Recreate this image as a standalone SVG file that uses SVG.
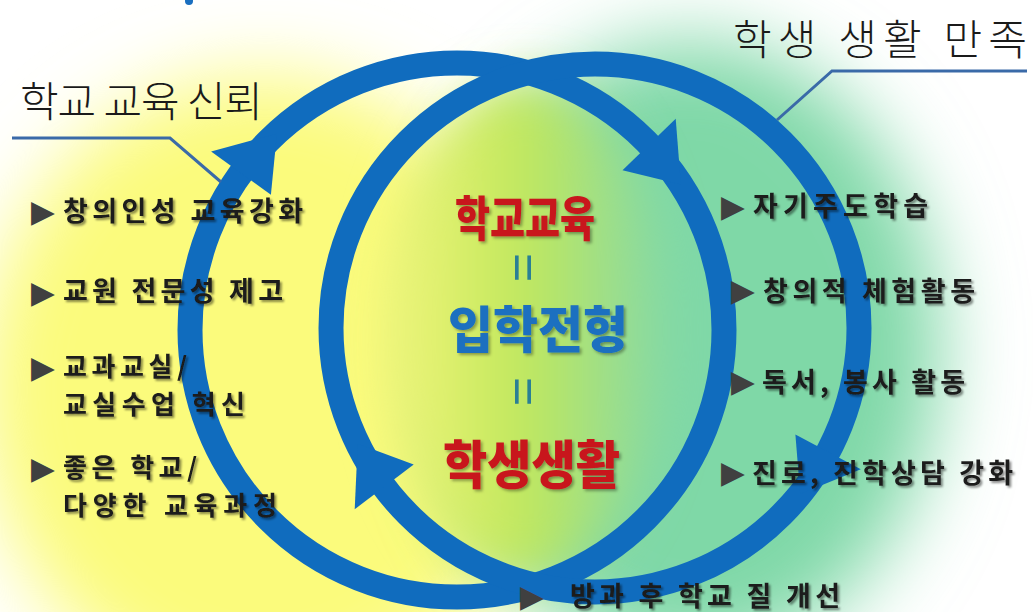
<svg xmlns="http://www.w3.org/2000/svg" width="1033" height="612" viewBox="0 0 1033 612">
  <defs>
    <filter id="blur40" x="-50%" y="-50%" width="200%" height="200%"><feGaussianBlur stdDeviation="40"/></filter>
    <filter id="blur25" x="-50%" y="-50%" width="200%" height="200%"><feGaussianBlur stdDeviation="25"/></filter>
    <filter id="shadow" x="-10%" y="-30%" width="130%" height="160%"><feDropShadow dx="2" dy="2" stdDeviation="1.2" flood-color="#000" flood-opacity="0.45"/></filter>
    <filter id="shadow2" x="-10%" y="-30%" width="130%" height="160%"><feDropShadow dx="2" dy="2" stdDeviation="1.5" flood-color="#000" flood-opacity="0.35"/></filter>
    <linearGradient id="lens" x1="0" y1="0" x2="1" y2="0">
      <stop offset="0" stop-color="#f4f67a"/>
      <stop offset="0.5" stop-color="#bfe75c"/>
      <stop offset="1" stop-color="#86d9a6"/>
    </linearGradient>
    <style>
      .ring { fill: none; stroke: #106cbe; stroke-width: 25; }
      .head { fill: #106cbe; }
      .lead { fill: none; stroke: #3a6aa8; stroke-width: 3; }
      .hand { font-family: "Noto Sans CJK KR", sans-serif; font-weight: 300; font-size: 42px; fill: #1a1a1a; }
      .item { font-family: "Noto Sans CJK KR", sans-serif; font-weight: 700; font-size: 27px; fill: #1a1a1a; filter: url(#shadow); }
      .item2 { font-size: 26px; }
      .bul { font-family: "DejaVu Sans", sans-serif; font-size: 31px; fill: #404040; }
      .big { font-family: "Noto Sans CJK KR", sans-serif; font-weight: 900; filter: url(#shadow2); }
      .red { fill: #c8141e; }
      .blue { fill: #1a6fc0; }
      .eq { font-family: "Liberation Sans", sans-serif; font-size: 50px; fill: #2a7f95; }
    </style>
  </defs>

  <g id="background">
    <rect width="1033" height="612" fill="#ffffff"/>
    <ellipse cx="265" cy="390" rx="285" ry="315" fill="#fbfb7b" filter="url(#blur40)"/>
    <ellipse cx="690" cy="350" rx="250" ry="310" fill="#7fd8a7" filter="url(#blur40)"/>
    <ellipse cx="525" cy="330" rx="140" ry="250" fill="url(#lens)" filter="url(#blur25)"/>
    <circle cx="189" cy="1" r="4" fill="#1a6fc0"/>
  </g>

  <g id="connectors">
    <circle class="ring" cx="457" cy="330" r="267"/>
    <circle class="ring" cx="595" cy="328" r="264"/>
    <polygon class="head" points="211.1,151.4 276.9,133.7 270.9,194.8"/>
    <polygon class="head" points="622.5,170.2 675.7,118.8 680.9,184.6"/>
    <polygon class="head" points="795.4,434.5 860.8,469.3 800.2,494.1"/>
    <polygon class="head" points="413.7,464.6 354.7,509.2 357.7,443.7"/>
    <polyline class="lead" points="12,138 170,138 221,182"/>
    <polyline class="lead" points="1027,71 832,71 777,120"/>
  </g>

  <g id="header-left">
    <text class="hand" x="20" y="117" textLength="243" lengthAdjust="spacing">학교 교육 신뢰</text>
  </g>
  <g id="header-right">
    <text class="hand" x="733" y="55" font-size="44" textLength="294" lengthAdjust="spacing">학생 생활 만족</text>
  </g>

  <g id="center-1">
    <text class="big red" x="455" y="236" font-size="48" textLength="140" lengthAdjust="spacingAndGlyphs">학교교육</text>
  </g>
  <g id="eq-1">
    <text class="eq" transform="translate(524.5,267.5) rotate(90)" x="0" y="18" text-anchor="middle">=</text>
  </g>
  <g id="center-2">
    <text class="big blue" x="448" y="348" font-size="50" textLength="180" lengthAdjust="spacingAndGlyphs">입학전형</text>
  </g>
  <g id="eq-2">
    <text class="eq" transform="translate(524.5,391.5) rotate(90)" x="0" y="18" text-anchor="middle">=</text>
  </g>
  <g id="center-3">
    <text class="big red" x="443" y="484" font-size="52" textLength="177" lengthAdjust="spacingAndGlyphs">학생생활</text>
  </g>

  <g id="left-1">
    <text class="bul" x="31" y="222">▶</text>
    <text class="item" x="63" y="221" textLength="240" lengthAdjust="spacing">창의인성 교육강화</text>
  </g>
  <g id="left-2">
    <text class="bul" x="31" y="303">▶</text>
    <text class="item" x="63" y="301" textLength="220" lengthAdjust="spacing">교원 전문성 제고</text>
  </g>
  <g id="left-3">
    <text class="bul" x="31" y="378">▶</text>
    <text class="item item2" x="63" y="376" textLength="124" lengthAdjust="spacing">교과교실/</text>
    <text class="item item2" x="63" y="414" textLength="182" lengthAdjust="spacing">교실수업 혁신</text>
  </g>
  <g id="left-4">
    <text class="bul" x="31" y="479">▶</text>
    <text class="item item2" x="63" y="477" textLength="134" lengthAdjust="spacing">좋은 학교/</text>
    <text class="item item2" x="63" y="515" textLength="214" lengthAdjust="spacing">다양한 교육과정</text>
  </g>

  <g id="right-1">
    <text class="bul" x="721" y="217">▶</text>
    <text class="item" x="753" y="216" textLength="175" lengthAdjust="spacing">자기주도학습</text>
  </g>
  <g id="right-2">
    <text class="bul" x="731" y="301">▶</text>
    <text class="item" x="763" y="301" textLength="212" lengthAdjust="spacing">창의적 체험활동</text>
  </g>
  <g id="right-3">
    <text class="bul" x="731" y="392">▶</text>
    <text class="item" x="762" y="392" textLength="203" lengthAdjust="spacing">독서, 봉사 활동</text>
  </g>
  <g id="right-4">
    <text class="bul" x="721" y="483">▶</text>
    <text class="item" x="752" y="483" textLength="261" lengthAdjust="spacing">진로, 진학상담 강화</text>
  </g>
  <g id="bottom-1">
    <text class="bul" x="520" y="607">▶</text>
    <text class="item" x="570" y="606" textLength="270" lengthAdjust="spacing">방과 후 학교 질 개선</text>
  </g>
</svg>
